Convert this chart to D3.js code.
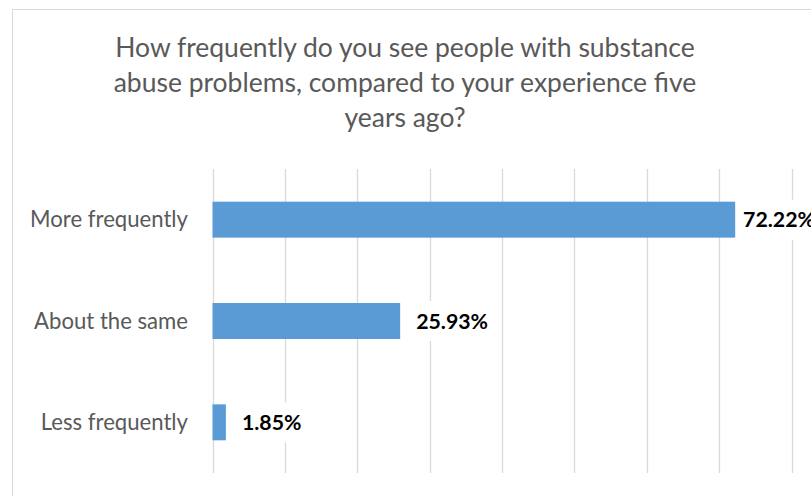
<!DOCTYPE html>
<html>
<head>
<meta charset="utf-8">
<script src="https://cdn.jsdelivr.net/npm/d3@7/dist/d3.min.js"></script>
<style>
  html, body { margin: 0; padding: 0; background: #fff; }
  svg { display: block; }
</style>
</head>
<body>
<svg id="chart" width="811" height="496"></svg>
<script>
// Survey responses (share of respondents)
const categories = ["More frequently", "About the same", "Less frequently"];
const values = [0.7222, 0.2593, 0.0185];
const valueLabels = ["72.22%", "25.93%", "1.85%"];
const xTicks = [0, 0.1, 0.2, 0.3, 0.4, 0.5, 0.6, 0.7, 0.8];
const titleLines = [
  "How frequently do you see people with substance",
  "abuse problems, compared to your experience five",
  "years ago?"
];

const FONT = "Lato, 'Open Sans', 'Liberation Sans', sans-serif";
const svg = d3.select("#chart");

// Outer chart frame (right and bottom edges fall outside the view)
svg.append("rect")
  .attr("x", 12.5).attr("y", 9.5)
  .attr("width", 900).attr("height", 600)
  .attr("fill", "#fff").attr("stroke", "#d9d9d9").attr("stroke-width", 1);

// Fit a text element's font size so its width equals the given width
function fitWidth(sel, target, base) {
  sel.style("font-size", base + "px");
  const w = sel.node().getComputedTextLength();
  sel.style("font-size", (base * target / w) + "px");
}

// Title
const titleBaselines = [57, 92, 127];
const titleWidths = [572, 583, null];
const titleG = svg.append("g");
const tnodes = titleLines.map((t, i) => titleG.append("text")
  .attr("x", 405).attr("y", titleBaselines[i])
  .attr("text-anchor", "middle")
  .attr("fill", "#595959")
  .style("font-family", FONT)
  .text(t));
fitWidth(tnodes[1], 583, 24);
const titleSize = tnodes[1].style("font-size");
tnodes.forEach(n => n.style("font-size", titleSize));

// Scales
const plotTop = 169, plotBottom = 473;
const x = d3.scaleLinear().domain([0, 0.8]).range([212.5, 791.5]);
const y = d3.scaleBand().domain(categories).range([plotTop, plotBottom])
  .paddingInner(0.645).paddingOuter(0.3225);

// Vertical gridlines
svg.append("g").selectAll("line").data(xTicks).join("line")
  .attr("x1", d => Math.round(x(d)) + 0.5).attr("x2", d => Math.round(x(d)) + 0.5)
  .attr("y1", plotTop).attr("y2", plotBottom)
  .attr("stroke", "#d9d9d9").attr("stroke-width", 1.3);

// Bars
svg.append("g").selectAll("rect").data(values).join("rect")
  .attr("x", x(0))
  .attr("y", (d, i) => y(categories[i]))
  .attr("width", d => x(d) - x(0))
  .attr("height", y.bandwidth())
  .attr("fill", "#5b9bd5");

// Category labels
const catG = svg.append("g");
const catNodes = categories.map(c => catG.append("text")
  .attr("x", 188)
  .attr("y", y(c) + y.bandwidth() / 2 + 7.5)
  .attr("text-anchor", "end")
  .attr("fill", "#595959")
  .style("font-family", FONT)
  .text(c));
fitWidth(catNodes[0], 158, 20);
const catSize = catNodes[0].style("font-size");
catNodes.forEach(n => n.style("font-size", catSize));

// Value labels with white backing that interrupts the gridlines
const valG = svg.append("g");
const valNodes = values.map((v, i) => {
  const g = valG.append("g");
  const bg = g.append("rect").attr("fill", "#fff");
  const t = g.append("text")
    .attr("y", y(categories[i]) + y.bandwidth() / 2 + 7.5)
    .attr("fill", "#000")
    .style("font-family", FONT)
    .style("font-weight", "bold")
    .text(valueLabels[i]);
  return { v, i, bg, t };
});
fitWidth(valNodes[1].t, 72, 20);
const valSize = valNodes[1].t.style("font-size");
valNodes.forEach(({ v, i, bg, t }) => {
  t.style("font-size", valSize);
  const w = t.node().getComputedTextLength();
  const lx = Math.min(x(v) + 16, 815 - w);
  t.attr("x", lx);
  const cy = y(categories[i]) + y.bandwidth() / 2;
  bg.attr("x", lx - 4).attr("y", cy - 20).attr("width", w + 8).attr("height", 40);
});
</script>
</body>
</html>
